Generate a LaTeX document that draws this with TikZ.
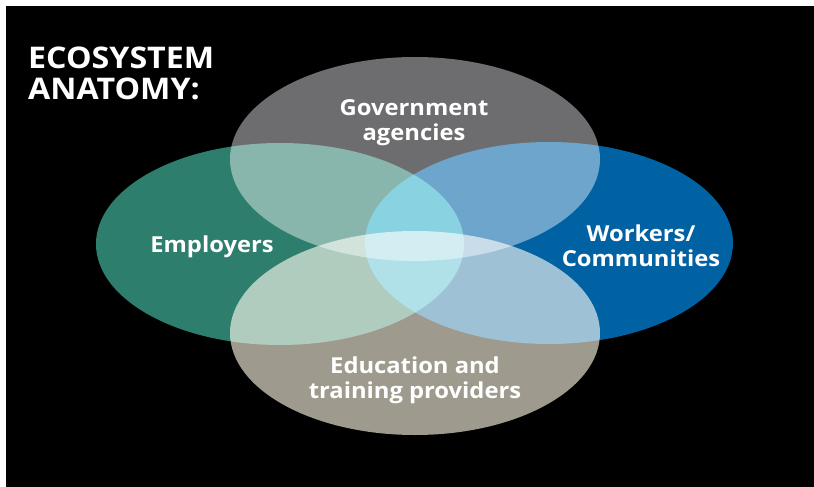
\documentclass[tikz,border=0pt]{standalone}
\usepackage{fontspec}
\setmainfont{Open Sans}[FakeStretch=1.08]
\usepackage{xcolor}
\definecolor{empgreen}{HTML}{2E7E6D}
\definecolor{workblue}{HTML}{0061A3}
\definecolor{govgray}{HTML}{6D6D6F}
\definecolor{edutan}{HTML}{9E9A8D}
\tikzset{
  setname/.style={text=white,font=\bfseries\fontsize{22}{25}\selectfont,align=center,inner sep=0pt},
}

\begin{document}
\begin{tikzpicture}[x=1pt,y=-1pt]
      \useasboundingbox (0,0) rectangle (814,487);
      \fill[black] (6,6) rectangle (814,487);

      % the four sets, lightened where they overlap
      \begin{scope}[blend group=screen]
        \fill[empgreen] (280,244) ellipse [x radius=184,y radius=101];
        \fill[workblue] (549,243) ellipse [x radius=184,y radius=101];
        \fill[govgray] (415,159) ellipse [x radius=185,y radius=102];
        \fill[edutan] (415,333) ellipse [x radius=185,y radius=102];
      \end{scope}

      \node (title) at (28,73) [anchor=west,text=white,align=left,inner sep=0pt,
        font=\bfseries\fontsize{29.8}{31}\selectfont] {ECOSYSTEM\\ANATOMY:};

      \node (gov) at (414,123) [setname] {Government\\agencies};
      \node (emp) at (212,247) [setname] {Employers};
      \node (work) at (641,246) [setname] {Workers/\\Communities};
      \node (edu) at (415,380) [setname] {Education and\\training providers};
    \end{tikzpicture}
\end{document}
